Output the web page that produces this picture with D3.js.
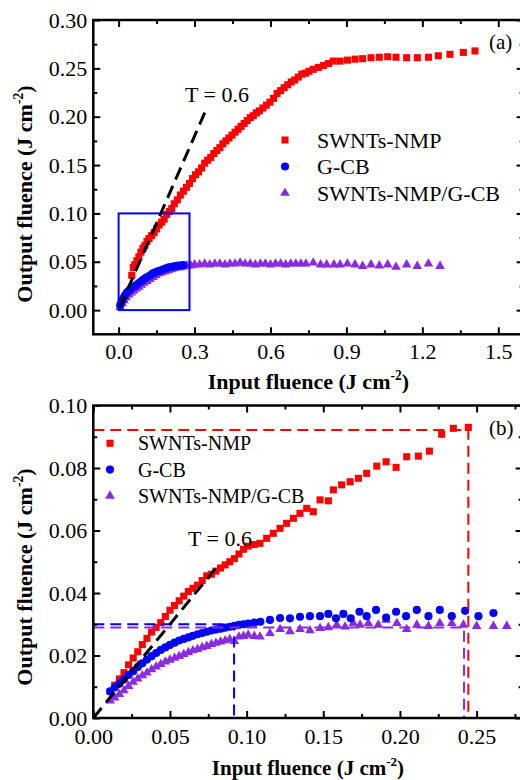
<!DOCTYPE html>
<html>
<head>
<meta charset="utf-8">
<script src="https://cdn.jsdelivr.net/npm/d3@7"></script>
<style>
body { margin: 0; background: #fff; }
svg { display: block; }
svg text { font-family: "Liberation Serif", "Times New Roman", serif; }
</style>
</head>
<body>
<svg id="chart" width="520" height="780"></svg>
<script>
// ---- data, panel (a) ----
var nmpA = [[0.052,0.036],[0.058,0.044],[0.064,0.047],[0.072,0.051],[0.080,0.055],[0.088,0.060],[0.096,0.064],[0.104,0.067],[0.112,0.071],[0.120,0.074],[0.130,0.077],[0.140,0.080],[0.150,0.084],[0.160,0.088],[0.170,0.091],[0.180,0.094],[0.190,0.099],[0.200,0.102],[0.210,0.105],[0.220,0.110],[0.232,0.114],[0.244,0.119],[0.256,0.123],[0.268,0.127],[0.280,0.131],[0.292,0.136],[0.304,0.140],[0.316,0.143],[0.328,0.147],[0.340,0.152],[0.352,0.155],[0.364,0.158],[0.376,0.162],[0.388,0.165],[0.400,0.168],[0.412,0.172],[0.424,0.175],[0.436,0.178],[0.448,0.181],[0.460,0.184],[0.472,0.187],[0.484,0.190],[0.496,0.193],[0.508,0.196],[0.520,0.199],[0.532,0.201],[0.544,0.204],[0.556,0.206],[0.570,0.209],[0.584,0.212],[0.598,0.215],[0.612,0.219],[0.626,0.224],[0.640,0.227],[0.654,0.230],[0.668,0.233],[0.682,0.236],[0.696,0.238],[0.710,0.241],[0.724,0.244],[0.738,0.245],[0.752,0.247],[0.769,0.249],[0.789,0.251],[0.809,0.253],[0.829,0.255],[0.848,0.2575],[0.875,0.2575],[0.904,0.2585],[0.934,0.2595],[0.964,0.260],[0.997,0.261],[1.030,0.2615],[1.063,0.262],[1.096,0.2615],[1.138,0.261],[1.180,0.261],[1.224,0.2615],[1.263,0.263],[1.309,0.2645],[1.362,0.2665],[1.408,0.268]]

var gcbA = [[0.006,0.005],[0.012,0.009],[0.018,0.012],[0.025,0.015],[0.032,0.018],[0.040,0.020],[0.048,0.022],[0.056,0.024],[0.065,0.025],[0.075,0.027],[0.085,0.029],[0.095,0.031],[0.105,0.033],[0.115,0.0345],[0.125,0.036],[0.135,0.038],[0.145,0.039],[0.155,0.040],[0.165,0.041],[0.175,0.042],[0.185,0.043],[0.195,0.044],[0.205,0.0445],[0.215,0.045],[0.225,0.0455],[0.235,0.046],[0.245,0.046],[0.255,0.0465]]

var mixA = [[0.006,0.003],[0.014,0.007],[0.022,0.010],[0.030,0.013],[0.040,0.016],[0.050,0.018],[0.060,0.020],[0.070,0.022],[0.080,0.024],[0.090,0.026],[0.100,0.028],[0.112,0.030],[0.124,0.032],[0.136,0.034],[0.148,0.036],[0.160,0.038],[0.172,0.039],[0.184,0.040],[0.196,0.041],[0.208,0.042],[0.220,0.043],[0.232,0.044],[0.244,0.044],[0.256,0.045],[0.270,0.046],[0.285,0.046],[0.300,0.047],[0.320,0.047],[0.340,0.048],[0.360,0.047],[0.380,0.048],[0.400,0.048],[0.420,0.047],[0.440,0.048],[0.460,0.048],[0.480,0.049],[0.500,0.048],[0.520,0.048],[0.540,0.047],[0.560,0.048],[0.580,0.048],[0.600,0.047],[0.620,0.048],[0.640,0.048],[0.660,0.047],[0.680,0.048],[0.700,0.048],[0.720,0.048],[0.740,0.048],[0.769,0.049],[0.798,0.047],[0.822,0.047],[0.851,0.047],[0.875,0.047],[0.904,0.048],[0.934,0.047],[0.964,0.0455],[0.997,0.047],[1.030,0.046],[1.063,0.047],[1.096,0.0445],[1.138,0.047],[1.180,0.0455],[1.224,0.048],[1.270,0.0455]]

var tLineA = [[0.004,0.0024],[0.35,0.21]]
var boxA = [[0,0],[0.28,0.10]]

// ---- data, panel (b) ----
var nmpB = [[0.011,0.0085],[0.014,0.0105],[0.017,0.0125],[0.020,0.0145],[0.023,0.0170],[0.026,0.0192],[0.029,0.0212],[0.032,0.0235],[0.035,0.0255],[0.038,0.0275],[0.041,0.029],[0.044,0.0305],[0.047,0.0325],[0.050,0.0345],[0.053,0.036],[0.056,0.0375],[0.059,0.039],[0.062,0.0405],[0.065,0.0415],[0.068,0.0425],[0.071,0.044],[0.074,0.0455],[0.077,0.046],[0.080,0.047],[0.083,0.048],[0.086,0.049],[0.089,0.050],[0.092,0.051],[0.095,0.0525],[0.098,0.054],[0.101,0.055],[0.105,0.0555],[0.1087,0.0559],[0.1131,0.0575],[0.1174,0.0591],[0.1218,0.0607],[0.1261,0.0623],[0.1305,0.0639],[0.1348,0.0655],[0.1392,0.0671],[0.1435,0.066],[0.1479,0.0698],[0.1533,0.0695],[0.1566,0.073],[0.162,0.0746],[0.1675,0.0756],[0.1729,0.0767],[0.1783,0.0783],[0.1849,0.0806],[0.191,0.082],[0.1975,0.0802],[0.2044,0.0836],[0.212,0.0838],[0.2192,0.0854],[0.2272,0.0908],[0.2348,0.0927],[0.2446,0.093]]

var gcbB = [[0.011,0.0085],[0.014,0.0098],[0.017,0.011],[0.020,0.0123],[0.023,0.0138],[0.026,0.015],[0.029,0.0163],[0.032,0.0175],[0.035,0.0187],[0.038,0.0198],[0.041,0.0208],[0.044,0.0218],[0.047,0.0226],[0.050,0.0234],[0.053,0.0241],[0.056,0.0248],[0.059,0.0253],[0.062,0.0258],[0.065,0.0263],[0.068,0.0268],[0.071,0.0272],[0.074,0.0276],[0.077,0.028],[0.080,0.0283],[0.083,0.0286],[0.086,0.0289],[0.089,0.0292],[0.092,0.0295],[0.095,0.0298],[0.098,0.030],[0.101,0.0302],[0.105,0.0305],[0.109,0.0308],[0.1152,0.0314],[0.1218,0.032],[0.1283,0.0319],[0.1348,0.0324],[0.1413,0.0326],[0.1479,0.0326],[0.1533,0.0333],[0.1583,0.0319],[0.1631,0.0333],[0.1679,0.0319],[0.1736,0.034],[0.1783,0.0326],[0.1844,0.0346],[0.191,0.0321],[0.1975,0.034],[0.204,0.0326],[0.211,0.0346],[0.2186,0.0326],[0.226,0.0346],[0.2338,0.0326],[0.2425,0.0343],[0.2512,0.0326],[0.261,0.0336]]

var mixB = [[0.011,0.0055],[0.014,0.0065],[0.017,0.0076],[0.020,0.0088],[0.023,0.0102],[0.026,0.0115],[0.029,0.0126],[0.032,0.0136],[0.035,0.0145],[0.038,0.0155],[0.041,0.0164],[0.044,0.0172],[0.047,0.018],[0.050,0.0186],[0.053,0.0192],[0.056,0.0198],[0.059,0.0204],[0.062,0.021],[0.065,0.0216],[0.068,0.022],[0.071,0.0226],[0.074,0.023],[0.077,0.0236],[0.080,0.024],[0.083,0.0244],[0.086,0.0248],[0.089,0.0252],[0.092,0.0246],[0.095,0.026],[0.098,0.0262],[0.101,0.0266],[0.105,0.0262],[0.1087,0.026],[0.1152,0.0271],[0.1218,0.0284],[0.1283,0.0277],[0.1348,0.0284],[0.1413,0.028],[0.1479,0.0287],[0.1533,0.029],[0.1588,0.0298],[0.1642,0.0292],[0.1696,0.0303],[0.174,0.0298],[0.1794,0.0303],[0.1859,0.0298],[0.191,0.0314],[0.198,0.0303],[0.2044,0.0284],[0.211,0.0298],[0.2186,0.0294],[0.226,0.0303],[0.2338,0.0303],[0.2414,0.0298],[0.25,0.0294],[0.261,0.0294],[0.2697,0.0294]]

var tLineB = [[0,0],[0.082,0.0492]]
var guideNmpB = [[0,0.0922],[0.2446,0.0922],[0.2446,0]]
var guideGcbB = [[0,0.030],[0.0918,0.030],[0.0918,0]]
var guideMixB = [[0,0.029],[0.2418,0.029],[0.2418,0]]

// ---- ticks & labels ----
var xTicksA = [0, 0.3, 0.6, 0.9, 1.2, 1.5]
var xMinorA = [0.15, 0.45, 0.75, 1.05, 1.35]
var yTicksA = [0, 0.05, 0.10, 0.15, 0.20, 0.25, 0.30]
var yMinorA = [0.025, 0.075, 0.125, 0.175, 0.225, 0.275]
var xTicksB = [0, 0.05, 0.10, 0.15, 0.20, 0.25]
var xMinorB = [0.025, 0.075, 0.125, 0.175, 0.225, 0.275]
var yTicksB = [0, 0.02, 0.04, 0.06, 0.08, 0.10]
var yMinorB = [0.01, 0.03, 0.05, 0.07, 0.09]

var seriesNames = ['SWNTs-NMP', 'G-CB', 'SWNTs-NMP/G-CB']

var red = '#ff0000', blue = '#0000ff', violet = '#8a2be2'
var serif = '"Liberation Serif", "Times New Roman", serif'

var svg = d3.select('#chart')

var no_label = function(){ return '' }

var add_axis = function(g, axis, tx, ty, values, size, fmt, pad){
	var a = g.append('g')
		.attr('transform', 'translate(' + tx + ',' + ty + ')')
		.call(axis.tickValues(values).tickSize(-size).tickSizeOuter(0).tickPadding(pad || 8).tickFormat(fmt || no_label))
	a.attr('font-family', null)
	a.select('.domain').remove()
	a.selectAll('line').attr('stroke', '#000').attr('stroke-width', 2)
	a.selectAll('text').style('font-family', serif).attr('font-size', 22).attr('fill', '#000')
	return a
}

var add_title = function(g, txt, x, y, size, rotate){
	var t = g.append('text')
		.attr('transform', 'translate(' + x + ',' + y + ')' + (rotate ? ' rotate(-90)' : ''))
		.attr('text-anchor', 'middle')
		.style('font-family', serif).attr('font-weight', 'bold').attr('font-size', size)
	t.append('tspan').text(txt + ' (J cm')
	t.append('tspan').attr('dy', -size * 0.42).attr('font-size', size * 0.62).text('-2')
	t.append('tspan').attr('dy', size * 0.42).text(')')
}

var draw_panel = function(p){
	var x = d3.scaleLinear().domain(p.xDomain).range([p.left, p.right])
	var y = d3.scaleLinear().domain(p.yDomain).range([p.bottom, p.top])
	var g = svg.append('g')
	var line = d3.line().x(function(d){ return x(d[0]) }).y(function(d){ return y(d[1]) })

	// markers
	var marks = [
		{data: p.nmp, shape: d3.symbolSquare, size: 50, color: red},
		{data: p.mix, shape: d3.symbolTriangle, size: 40, color: violet},
		{data: p.gcb, shape: d3.symbolCircle, size: 52, color: blue}
	]
	marks.forEach(function(m){
		g.append('g').selectAll('path').data(m.data).join('path')
			.attr('transform', function(d){ return 'translate(' + x(d[0]) + ',' + y(d[1]) + ')' })
			.attr('d', d3.symbol(m.shape, m.size))
			.attr('fill', m.color)
	})

	// guides
	p.guides.forEach(function(gd){
		g.append('path').attr('d', line(gd.data)).attr('fill', 'none')
			.attr('stroke', gd.color).attr('stroke-width', 2).attr('stroke-dasharray', '11,6')
	})
	if (p.box){
		g.append('rect')
			.attr('x', x(p.box[0][0])).attr('y', y(p.box[1][1]))
			.attr('width', x(p.box[1][0]) - x(p.box[0][0]))
			.attr('height', y(p.box[0][1]) - y(p.box[1][1]))
			.attr('fill', 'none').attr('stroke', blue).attr('stroke-width', 2)
	}
	g.append('path').attr('d', line(p.tLine)).attr('fill', 'none')
		.attr('stroke', '#000').attr('stroke-width', 3).attr('stroke-dasharray', '13,7')

	// axes on all four sides
	add_axis(g, d3.axisBottom(x), 0, p.bottom, p.xTicks, 7, d3.format(p.xFmt), p.xPad)
	add_axis(g, d3.axisBottom(x), 0, p.bottom, p.xMinor, 4)
	add_axis(g, d3.axisTop(x), 0, p.top, p.xTicks, 7)
	add_axis(g, d3.axisTop(x), 0, p.top, p.xMinor, 4)
	add_axis(g, d3.axisLeft(y), p.left, 0, p.yTicks, 7, d3.format('.2f'), 6)
	add_axis(g, d3.axisLeft(y), p.left, 0, p.yMinor, 4)
	add_axis(g, d3.axisRight(y), p.right, 0, p.yTicks, 7)
	add_axis(g, d3.axisRight(y), p.right, 0, p.yMinor, 4)

	g.append('rect')
		.attr('x', p.left).attr('y', p.top)
		.attr('width', p.right - p.left).attr('height', p.bottom - p.top)
		.attr('fill', 'none').attr('stroke', '#000').attr('stroke-width', 2.5)

	// legend
	var shapes = [d3.symbolSquare, d3.symbolCircle, d3.symbolTriangle]
	var sizes = [50, 52, 40]
	var colors = [red, blue, violet]
	seriesNames.forEach(function(name, i){
		var ly = p.legend.y + i * p.legend.step
		g.append('path')
			.attr('transform', 'translate(' + p.legend.x + ',' + ly + ')')
			.attr('d', d3.symbol(shapes[i], sizes[i])).attr('fill', colors[i])
		g.append('text').attr('x', p.legend.tx).attr('y', ly).attr('dy', '0.35em')
			.style('font-family', serif).attr('font-size', p.legend.font).text(name)
	})

	g.append('text').attr('x', p.tLabel[0]).attr('y', p.tLabel[1])
		.style('font-family', serif).attr('font-size', 22).text('T = 0.6')
	g.append('text').attr('x', p.tag[0]).attr('y', p.tag[1])
		.style('font-family', serif).attr('font-size', 21).text(p.tagText)

	add_title(g, 'Input fluence', (p.left + p.right) / 2, p.xTitleY, p.xTitleSize, false)
	add_title(g, 'Output fluence', 32, p.yTitleY, 22, true)
}

draw_panel({
	left: 93.3, right: 523.6, top: 20, bottom: 334.3,
	xDomain: [-0.1, 1.6], yDomain: [-0.025, 0.30],
	nmp: nmpA, gcb: gcbA, mix: mixA,
	tLine: tLineA, box: boxA, guides: [],
	xTicks: xTicksA, xMinor: xMinorA, yTicks: yTicksA, yMinor: yMinorA,
	xFmt: '.1f', xPad: 9,
	legend: {x: 285, tx: 317, y: 140, step: 26.5, font: 22},
	tLabel: [185, 102], tag: [489, 49], tagText: '(a)',
	xTitleY: 389, xTitleSize: 22, yTitleY: 194
})

draw_panel({
	left: 93.3, right: 522.6, top: 405.5, bottom: 718,
	xDomain: [0, 0.28], yDomain: [0, 0.10],
	nmp: nmpB, gcb: gcbB, mix: mixB,
	tLine: tLineB, box: null,
	guides: [{data: guideNmpB, color: red}, {data: guideGcbB, color: blue}, {data: guideMixB, color: violet}],
	xTicks: xTicksB, xMinor: xMinorB, yTicks: yTicksB, yMinor: yMinorB,
	xFmt: '.2f', xPad: 10,
	legend: {x: 110, tx: 138, y: 443.3, step: 26.3, font: 20},
	tLabel: [188, 546], tag: [489, 435], tagText: '(b)',
	xTitleY: 775, xTitleSize: 21, yTitleY: 577
})
</script>
</body>
</html>
